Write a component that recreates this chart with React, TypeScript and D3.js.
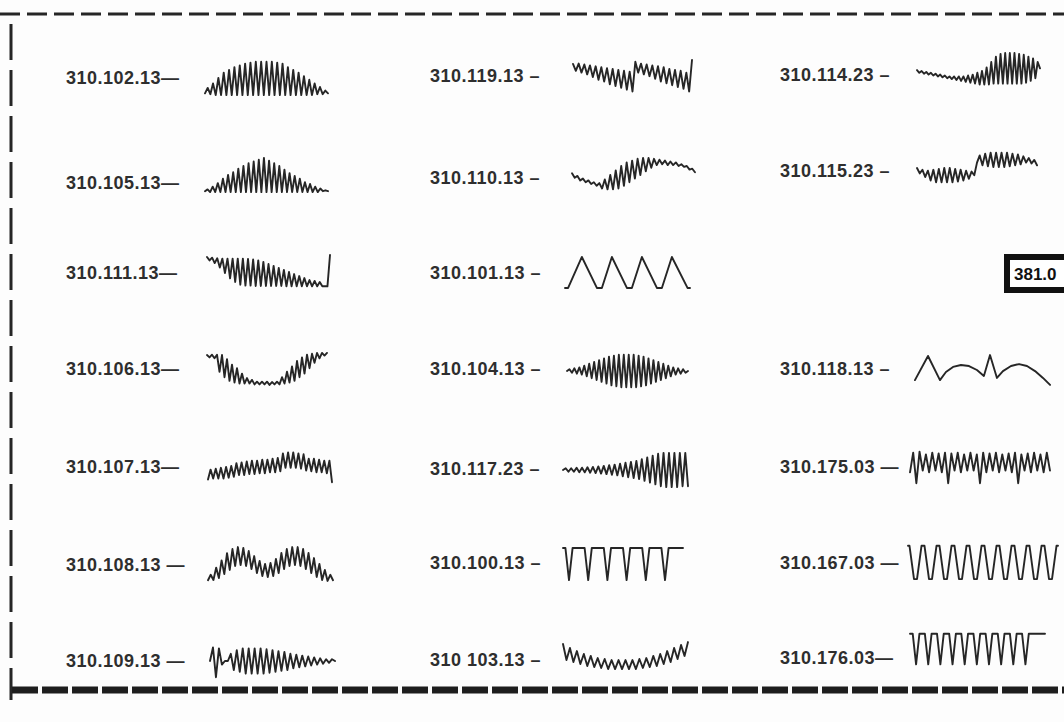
import React from 'react';
import * as d3 from 'd3';

// ---------- labels ----------
const labelsCol1 = ['310.102.13—', '310.105.13—', '310.111.13—', '310.106.13—', '310.107.13—', '310.108.13 —', '310.109.13 —'];
const labelsCol2 = ['310.119.13 –', '310.110.13 –', '310.101.13 –', '310.104.13 –', '310.117.23 –', '310.100.13 –', '310 103.13 –'];
const labelsCol3 = ['310.114.23 –', '310.115.23 –', '', '310.118.13 –', '310.175.03 —', '310.167.03 —', '310.176.03—'];
const boxLabel = '381.0';

// ---------- stitch patterns (alternating extremes, value units -10..10) ----------
const w102_13 = [-8.5, -5.5, -9, -3, -9.5, 0, -9.5, 3, -9.5, 4.5, -9.5, 6, -9.5, 7, -9.5, 8, -9.5, 8.5, -9.5, 9, -9.5, 9, -9.5, 9, -9.5, 9, -9.5, 8.5, -9.5, 8, -9.5, 6, -9.5, 4.5, -9.5, 3, -9.5, 1, -9.5, -1, -9.5, -3, -9, -5, -9, -7, -8.5];
const w105_13 = [-9, -8, -9.5, -6.5, -9.5, -4.5, -9.5, -2, -9.5, 0, -9.5, 1.5, -9.5, 3.5, -9.5, 5, -9.5, 6.5, -9.5, 7.5, -9.5, 8.5, -9.5, 9.5, -9.5, 8, -9.5, 6.5, -9.5, 5, -9.5, 3, -9.5, 1, -9.5, -0.5, -9.5, -2, -9.5, -4, -9.5, -5, -9.5, -6.5, -9.5, -7.5, -9, -8.5, -9];
const w111_13 = [8.9, 7, 8.5, 5.5, 8.2, 3, 8, 0, 8, -3, 8, -5, 8, -6.5, 8, -7, 7.8, -7, 7.5, -7.2, 7, -7.2, 6.2, -7.2, 5, -7.2, 3.9, -7.2, 2.8, -7.2, 1.7, -7.4, 0.6, -7.4, -0.6, -7.4, -1.7, -7.4, -2.8, -7.4, -3.9, -7.4, -4.4, -7.4, -5, -7.4, -7.4, -7.4, 10];
const w106_13 = [8.3, 7, 8.5, 6.5, 8.5, -1, 8.3, -4, 6, -6, 3, -7, 1, -7.5, -2, -7.5, -4.5, -7.5, -5.5, -8, -6.5, -8, -6.5, -8, -6.5, -8.3, -6.7, -8, -6.5, -8, -4, -7.5, -1, -7, 2, -6, 5, -4, 7, -2, 8.5, 1, 9, 4, 9.5, 6.5, 9.5, 8, 9.5];
const w107_13 = [-7.5, -2, -7, -1.5, -7, -1, -7, -0.5, -6.5, 0, -6, 1.5, -5, 2, -5, 2.5, -4.5, 3, -4.5, 3, -4, 3.5, -4, 3.5, -3.5, 4, -3.5, 4.5, -3, 7, -1, 7.5, -1, 7.5, -1, 7, -1.5, 6.5, -2.5, 4, -3, 4, -3.5, 3.5, -3.5, 3, -4, 3, -9];
const w108_13 = [-9, -6, -8.9, -2, -7.8, 2, -5.6, 6, -3.3, 8.3, -1.1, 9.4, -0.6, 8.9, -1.1, 7.2, -2.8, 4.4, -5, 1.7, -6.7, 0, -7.2, 0.6, -6.7, 2.8, -5, 6.1, -2.8, 8.3, -1.1, 9.4, -0.6, 9.4, -1.1, 8.3, -2.8, 6.1, -5, 3.3, -7.2, 0, -8.9, -3.3, -9.4, -6, -9];
const w109_13 = [0, 7.5, -9, 7, -2, 0, 0, 4, -5, 6, -6, 7, -7, 7, -7, 7, -7, 7, -7, 6.5, -6.5, 6, -6, 5.5, -5.5, 5, -5, 4, -4, 3.5, -3.5, 3, -3, 2.5, -2.5, 2, -2, 1.5, -1.5, 1, -1, 1, 0];

const w119_13 = [7.8, 4, 8, 3, 7.5, 2, 7, 0.5, 6.5, -1, 6, -2, 5.5, -3.5, 5, -4.5, 4.5, -5.5, 4, -6.5, 3.5, -7.5, 9, 3, 8, 2, 7.5, 1, 7, -0.5, 6.5, -2, 6, -3, 5, -4, 4.5, -5, 4, -6, 3, -7.5, 10];
const w110_13 = [1, -1.5, -0.5, -3, -2, -4, -3, -5, -4, -6, -4.5, -7.5, -2.5, -8, 0, -8, 2.5, -7.5, 5, -6, 7, -4, 8, -2, 9, 0, 9.5, 2, 9.5, 4, 9, 5.5, 8.5, 6, 8, 5.5, 7.5, 5.5, 7, 5, 6, 4.5, 5, 3, 3.5, 1.5];
const w101_13: [number, number][] = [[0, -8.3], [2.5, -8.3], [13.5, 8.9], [25.5, -8.3], [29.5, -8.3], [37.5, 8.9], [49.5, -8.3], [53.5, -8.3], [61.5, 8.9], [73.5, -8.3], [77.5, -8.3], [85.5, 8.9], [98, -8.3], [100, -8.3]];
const w104_13 = [0, 1, -1, 1.5, -1.5, 2, -2, 3, -3, 4, -4, 5, -5, 6, -6, 7, -7, 8, -8, 8.5, -8.5, 9, -9, 9, -9, 9, -9, 9, -9, 8.5, -8.5, 8, -8, 7, -7, 6, -6, 5, -5, 4, -4, 3, -3, 2, -2, 1.5, -1.5, 1, -1, 0];
const w117_23 = [0, 1, -1, 1, -1, 1.2, -1.2, 1.3, -1.3, 1.5, -1.5, 1.7, -1.7, 2, -2, 2.3, -2.3, 2.7, -2.7, 3, -3, 3.5, -3.5, 4, -4, 4.5, -4.5, 5, -5, 6, -6, 7, -7, 8, -8, 9, -9, 9.5, -9.5, 9.5, -9.5, 9.5, -9.5, 9.5, -9, 9.5, -9];
const w100_13: [number, number][] = [[0, 8.9], [2, 8.9], [5, -8.9], [8, 8.9], [18, 8.9], [21, -8.9], [24, 8.9], [34, 8.9], [37, -8.9], [40, 8.9], [50, 8.9], [53, -8.9], [56, 8.9], [66, 8.9], [69, -8.9], [72, 8.9], [82, 8.9], [85, -8.9], [88, 8.9], [100, 8.9]];
const w103_13 = [7.2, -1.7, 5, -2.8, 3.3, -3.9, 1.7, -5, 0.6, -5.6, -0.6, -6.1, -1.1, -6.7, -1.7, -6.7, -1.7, -6.7, -1.7, -6.7, -1.7, -6.7, -1.1, -6.1, -0.6, -5.6, 0.6, -5, 1.7, -3.9, 3.3, -2.8, 5, -1.1, 6.7, 0.6, 8.3];

const w114_23 = [0.5, -1, 0, -1.5, -0.5, -2, -1, -2.5, -1.5, -3, -2, -3.5, -2.5, -4, -3, -4.5, -3, -5, -3, -5.5, -3, -6, -2.5, -6.5, -2, -7, -1, -7.5, 0, -7.5, 2, -7.5, 5, -7, 8, -7, 9.5, -7, 10, -7, 10, -7, 10, -7, 9.5, -7, 9, -6.5, 8, -5.5, 7, -4, 5, 1.5];
const w115_23 = [0, -3, -1, -5, -1.5, -7, -1, -8, -0.5, -8, 0, -8, 0, -8, -0.5, -7.5, -1, -7, -1.5, -6, -2, -4, 3, 7, 1.5, 8, 1, 8.5, 0.5, 8.5, 0.5, 8.5, 0.5, 8.5, 1, 8, 1.5, 7.5, 2, 6.5, 3, 5.5, 2.5, 4.5, 1.5];
const w118_13: [number, number][] = [[1.4, -5.6], [10.8, 7.8], [19.4, -5.6], [23.7, -1.1], [28.8, 1.7], [34.5, 2.8], [40.3, 2.2], [46, 0], [51, -3.3], [55.4, 8.3], [60.4, -4.4], [64.7, -0.6], [70.5, 2.2], [76.3, 3.3], [82, 2.2], [87.8, -0.6], [93.5, -4.4], [98.6, -8.3]];
const w175_03 = [-3, 8, -9, 8.5, -2, 7, -3, 8, -2, 7.5, -3, 8, -9, 7.5, -2, 8, -3, 7, -2, 8, -2, 7, -9, 8, -3, 7.5, -2, 8, -3, 7, -2, 7.5, -3, 8, -9, 7, -2, 7.5, -3, 8, -2, 7, -3, 8, -2];
const w167_03: [number, number][] = [[0, 9], [1, 9], [4, -9.5], [6, -9.5], [9, 9], [11, 9], [14, -9.5], [16, -9.5], [19, 9], [21, 9], [24, -9.5], [26, -9.5], [29, 9], [31, 9], [34, -9.5], [36, -9.5], [39, 9], [41, 9], [44, -9.5], [46, -9.5], [49, 9], [51, 9], [54, -9.5], [56, -9.5], [59, 9], [61, 9], [64, -9.5], [66, -9.5], [69, 9], [71, 9], [74, -9.5], [76, -9.5], [79, 9], [81, 9], [84, -9.5], [86, -9.5], [89, 9], [91, 9], [94, -9.5], [96, -9.5], [99, 9], [100, 9]];
const w176_03: [number, number][] = [[0, 8.5], [2, 8.5], [4.5, -8.5], [7, 8.5], [11, 8.5], [13.5, -8.5], [16, 8.5], [20, 8.5], [22.5, -8.5], [25, 8.5], [29, 8.5], [31.5, -8.5], [34, 8.5], [38, 8.5], [40.5, -8.5], [43, 8.5], [47, 8.5], [49.5, -8.5], [52, 8.5], [56, 8.5], [58.5, -8.5], [61, 8.5], [65, 8.5], [67.5, -8.5], [70, 8.5], [74, 8.5], [76.5, -8.5], [79, 8.5], [83, 8.5], [85.5, -8.5], [88, 8.5], [100, 8.5]];

// ---------- layout (positions only) ----------
type Wave = number[] | [number, number][];
const col1Waves: Wave[] = [w102_13, w105_13, w111_13, w106_13, w107_13, w108_13, w109_13];
const col2Waves: Wave[] = [w119_13, w110_13, w101_13, w104_13, w117_23, w100_13, w103_13];
const col3Waves: (Wave | null)[] = [w114_23, w115_23, null, w118_13, w175_03, w167_03, w176_03];

const cols = [
  { labelX: 66, labels: labelsCol1, waves: col1Waves,
    labelY: [78, 183, 273, 369, 467, 565, 661],
    span: [[205, 328], [205, 328], [207, 330], [207, 327], [208, 332], [208, 333], [210, 335]],
    cy: [78, 175, 273, 370, 466, 564, 661] },
  { labelX: 430, labels: labelsCol2, waves: col2Waves,
    labelY: [76, 178, 273, 369, 469, 563, 660],
    span: [[573, 692], [572, 695], [565, 690], [567, 688], [563, 688], [563, 683], [563, 688]],
    cy: [78, 175, 273, 371, 470, 564, 657] },
  { labelX: 780, labels: labelsCol3, waves: col3Waves,
    labelY: [75, 171, 273, 369, 467, 563, 658],
    span: [[917, 1040], [917, 1037], [0, 0], [913, 1052], [910, 1050], [908, 1058], [910, 1045]],
    cy: [71, 168, 273, 370, 467, 562, 649] },
];

const HALF = 18; // px for 10 value units
const INK = '#262626';

function WavePath({ data, x0, x1, cy }: { data: Wave; x0: number; x1: number; cy: number }) {
  const y = d3.scaleLinear().domain([-10, 10]).range([cy + HALF, cy - HALF]);
  let d: string | null;
  if (typeof data[0] === 'number') {
    const vals = data as number[];
    const x = d3.scaleLinear().domain([0, vals.length - 1]).range([x0, x1]);
    d = d3.line<number>().x((_, i) => x(i)).y((v) => y(v))(vals);
  } else {
    const pts = data as [number, number][];
    const x = d3.scaleLinear().domain([0, 100]).range([x0, x1]);
    d = d3.line<[number, number]>().x((p) => x(p[0])).y((p) => y(p[1]))(pts);
  }
  return <path d={d ?? ''} fill="none" stroke={INK} strokeWidth={1.9} strokeLinejoin="round" strokeLinecap="round" />;
}

export default function App() {
  return (
    <svg width={1064} height={722} style={{ position: 'absolute', left: 0, top: 0, background: '#fdfdfd' }}
      fontFamily="'Liberation Sans', Arial, sans-serif">
      <rect x={0} y={0} width={1064} height={722} fill="#fdfdfd" />
      {/* dashed frame */}
      <line x1={0} x2={1064} y1={14} y2={14} stroke={INK} strokeWidth={3} strokeDasharray="20 7" />
      <line x1={11} x2={11} y1={24} y2={700} stroke={INK} strokeWidth={3} strokeDasharray="36 10" />
      <line x1={12} x2={1064} y1={690} y2={690} stroke="#1e1e1e" strokeWidth={7} strokeDasharray="26 4" />

      {cols.map((c, ci) => (
        <g key={ci}>
          {c.labels.map((t, ri) => t ? (
            <text key={'t' + ri} x={c.labelX} y={c.labelY[ri] + 6} fontSize={18} fontWeight={700} letterSpacing={0.5} fill="#2e2e2e">{t}</text>
          ) : null)}
          {c.waves.map((w, ri) => w ? (
            <WavePath key={'w' + ri} data={w} x0={c.span[ri][0]} x1={c.span[ri][1]} cy={c.cy[ri]} />
          ) : null)}
        </g>
      ))}

      {/* boxed code */}
      <rect x={1007} y={257} width={70} height={33} fill="#fff" stroke="#111" strokeWidth={6} />
      <text x={1014} y={280} fontSize={17} fontWeight={700} fill="#111">{boxLabel}</text>
    </svg>
  );
}
